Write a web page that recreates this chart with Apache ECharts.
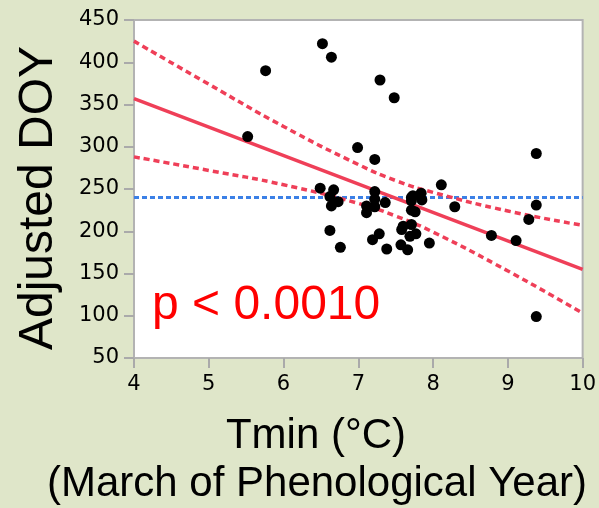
<!DOCTYPE html>
<html>
<head>
<meta charset="utf-8">
<script src="https://cdn.jsdelivr.net/npm/echarts@6/dist/echarts.min.js"></script>
<style>
  html, body { margin: 0; padding: 0; background: #dfe6c9; }
  #chart { width: 599px; height: 508px; }
</style>
</head>
<body>
<div id="chart"></div>
<script>
// observations: Tmin (°C) and adjusted day of year
const tmin = [6.52, 6.64, 5.76, 5.52, 6.49, 7.29, 7.48, 6.99, 7.22, 9.38, 8.11,
  6.67, 6.62, 6.73, 6.64, 6.62, 6.76, 7.22, 7.22, 7.11, 7.22, 7.11, 7.36,
  7.28, 7.19, 7.38, 7.71, 7.71, 7.73, 7.84, 7.85, 7.71, 7.76, 7.60, 7.71,
  7.58, 7.77, 7.69, 7.57, 7.66, 7.95, 8.29, 8.78, 9.11, 9.28, 9.38, 9.38];
const doy = [422, 406, 390, 312, 251, 379, 358, 299, 285, 292, 255,
  249, 241, 235, 230, 201, 181, 247, 238, 230, 229, 222, 234,
  197, 190, 179, 240, 236, 242, 245, 237, 225, 223, 206, 208,
  202, 197, 194, 184, 178, 186, 229, 195, 189, 214, 231, 99];

// fit line and confidence band
const fitX = [4, 10];
const fitY = [357, 155];
const bandX = [4, 5, 6, 7, 7.5, 8, 9, 10];
const bandUpper = [425, 374, 324, 279, 260, 246, 224, 207];
const bandLower = [288, 272, 255, 233, 218, 199, 153, 103];
const meanX = [4, 10];
const meanY = [240, 240];

const xTicks = [4, 5, 6, 7, 8, 9, 10];
const yTicks = [50, 100, 150, 200, 250, 300, 350, 400, 450];

const pair = (xs, ys) => xs.map((x, i) => [x, ys[i]]);

const chart = echarts.init(document.getElementById('chart'));
const tickFont = { fontFamily: 'DejaVu Sans', fontSize: 21, color: '#000' };
const red = '#ef3f58';

chart.setOption({
  backgroundColor: '#dfe6c9',
  animation: false,
  grid: {
    left: 134, right: 16, top: 20, bottom: 150,
    show: true, backgroundColor: '#fff', borderColor: '#b3b3b3', borderWidth: 2
  },
  xAxis: {
    type: 'value', min: xTicks[0], max: xTicks[xTicks.length - 1], interval: 1,
    axisLine: { show: false },
    axisTick: { show: true, length: 10, lineStyle: { color: '#aaa', width: 2 } },
    axisLabel: Object.assign({ margin: 16 }, tickFont),
    splitLine: { show: false }
  },
  yAxis: {
    type: 'value', min: yTicks[0], max: yTicks[yTicks.length - 1], interval: 50,
    axisLine: { show: false },
    axisTick: { show: true, length: 10, lineStyle: { color: '#aaa', width: 2 } },
    axisLabel: Object.assign({ margin: 15 }, tickFont),
    splitLine: { show: false }
  },
  graphic: [
    {
      type: 'text', x: 39, y: 198, rotation: Math.PI / 2,
      style: { text: 'Adjusted DOY', font: '48px "Liberation Sans"', fill: '#000',
        textAlign: 'center', textVerticalAlign: 'middle' }
    },
    {
      type: 'text', x: 316, y: 436,
      style: { text: 'Tmin (°C)', font: '42px "Liberation Sans"', fill: '#000',
        textAlign: 'center', textVerticalAlign: 'middle' }
    },
    {
      type: 'text', x: 317, y: 484,
      style: { text: '(March of Phenological Year)', font: '42px "Liberation Sans"', fill: '#000',
        textAlign: 'center', textVerticalAlign: 'middle' }
    },
    {
      type: 'text', x: 152, y: 306,
      style: { text: 'p < 0.0010', font: '48px "Liberation Sans"', fill: '#ff0000',
        textAlign: 'left', textVerticalAlign: 'middle' }
    }
  ],
  series: [
    {
      type: 'line', data: pair(meanX, meanY), symbol: 'none',
      lineStyle: { color: '#3b80e6', width: 3, type: [5, 3] }
    },
    {
      type: 'line', data: pair(bandX, bandUpper), symbol: 'none', smooth: true,
      lineStyle: { color: red, width: 3.5, type: [6, 4] }
    },
    {
      type: 'line', data: pair(bandX, bandLower), symbol: 'none', smooth: true,
      lineStyle: { color: red, width: 3.5, type: [6, 4] }
    },
    {
      type: 'line', data: pair(fitX, fitY), symbol: 'none',
      lineStyle: { color: red, width: 3.5 }
    },
    {
      type: 'scatter', data: pair(tmin, doy), symbolSize: 11,
      itemStyle: { color: '#000', opacity: 1 }, z: 5
    }
  ]
});
</script>
</body>
</html>
